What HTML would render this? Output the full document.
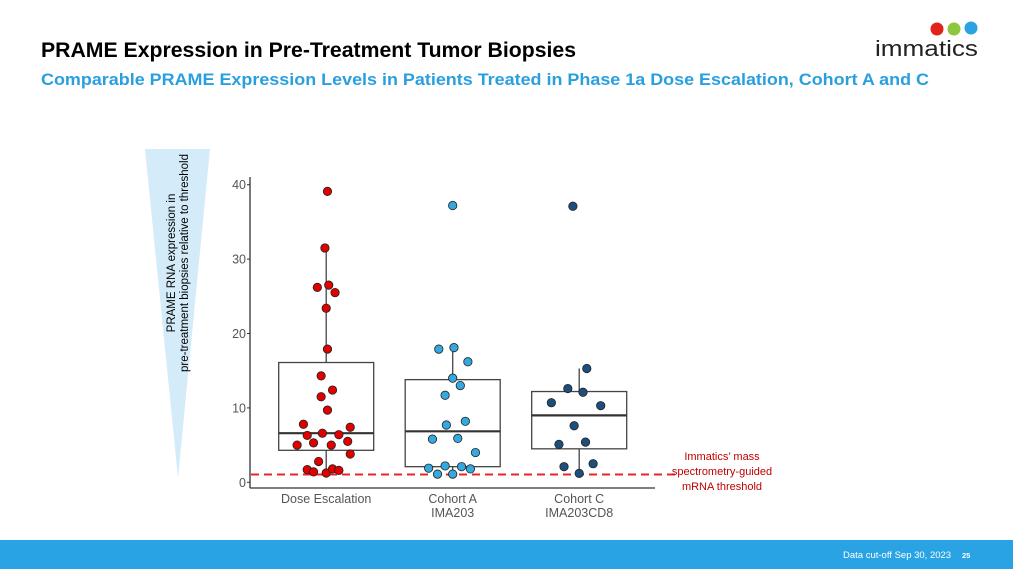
<!DOCTYPE html>
<html><head><meta charset="utf-8"><style>
html,body{margin:0;padding:0;background:#fff;}
svg{display:block;font-family:"Liberation Sans",sans-serif;}
</style></head><body>
<svg id="slide" width="1013" height="569" viewBox="0 0 1013 569" xmlns="http://www.w3.org/2000/svg">
  <text x="41" y="57" font-size="21" font-weight="bold" fill="#000" textLength="535" lengthAdjust="spacingAndGlyphs">PRAME Expression in Pre-Treatment Tumor Biopsies</text>
  <text x="41" y="85" font-size="17" font-weight="bold" fill="#2a9fe0" textLength="888" lengthAdjust="spacingAndGlyphs">Comparable PRAME Expression Levels in Patients Treated in Phase 1a Dose Escalation, Cohort A and C</text>
  <g>
    <circle cx="937" cy="29" r="6.5" fill="#e2231a"/>
    <circle cx="954" cy="29" r="6.5" fill="#8dc63f"/>
    <circle cx="971" cy="28" r="6.5" fill="#29a3e4"/>
    <text x="875" y="56" font-size="22" fill="#222" textLength="103" lengthAdjust="spacingAndGlyphs">immatics</text>
  </g>
  <polygon points="145,149 210,149 178,478" fill="#d4ebfa"/>
  <g transform="translate(178,263) rotate(-90)">
    <text x="0" y="-3" font-size="11.5" text-anchor="middle" fill="#000">PRAME RNA expression in</text>
    <text x="0" y="10" font-size="11.5" text-anchor="middle" fill="#000">pre-treatment biopsies relative to threshold</text>
  </g>
  <g id="chart"></g>
  <g fill="#c00000" font-size="11" text-anchor="middle">
    <text x="722" y="460">Immatics’ mass</text>
    <text x="722" y="475">spectrometry-guided</text>
    <text x="722" y="490">mRNA threshold</text>
  </g>
  <rect x="0" y="540" width="1013" height="29" fill="#29a3e4"/>
  <text x="843" y="558" font-size="9.5" fill="#fff">Data cut-off Sep 30, 2023</text>
  <text x="962" y="558" font-size="7.5" font-weight="bold" fill="#fff">25</text>
</svg>
<script>
const categories = ["Dose Escalation", "Cohort A|IMA203", "Cohort C|IMA203CD8"];
const colors = ["#e00000", "#35a8e0", "#1d4f7c"];
const yTicks = [0, 10, 20, 30, 40];
const threshold = 1.05;
const boxQ1 = [4.3, 2.1, 4.5];
const boxMedian = [6.6, 6.85, 9.0];
const boxQ3 = [16.1, 13.8, 12.2];
const whiskerLow = [1.25, 1.1, 1.2];
const whiskerHigh = [31.5, 18.1, 15.3];
const valuesDose = [39.1,31.5,26.2,26.5,25.5,23.4,17.9,14.3,12.4,11.5,9.7,7.8,7.4,6.3,6.6,6.4,5.0,5.3,5.0,5.5,3.8,2.8,1.7,1.4,1.25,1.8,1.6];
const jitterDose = [0.01,-0.01,-0.07,0.02,0.07,0,0.01,-0.04,0.05,-0.04,0.01,-0.18,0.19,-0.15,-0.03,0.1,-0.23,-0.1,0.04,0.17,0.19,-0.06,-0.15,-0.1,0,0.05,0.1];
const valuesA = [37.2,17.9,18.1,16.2,14.0,13.0,11.7,8.2,7.7,5.8,5.9,4.0,2.2,1.9,2.1,1.8,1.1,1.1];
const jitterA = [0,-0.11,0.01,0.12,0,0.06,-0.06,0.1,-0.05,-0.16,0.04,0.18,-0.06,-0.19,0.07,0.14,-0.12,0];
const valuesC = [37.1,15.3,12.6,12.1,10.7,10.3,7.6,5.1,5.4,2.1,2.5,1.2];
const jitterC = [-0.05,0.06,-0.09,0.03,-0.22,0.17,-0.04,-0.16,0.05,-0.12,0.11,0];
const seriesValues = [valuesDose, valuesA, valuesC];
const seriesJitter = [jitterDose, jitterA, jitterC];

const NS = "http://www.w3.org/2000/svg";
const g = document.getElementById("chart");
const X0 = 250, Y0 = 482.3, YTOP = 184.7, YMAX = 40;
const bandW = 126.5, firstCenter = 326.2, boxHalf = 47.5;
function yS(v){ return Y0 - (v / YMAX) * (Y0 - YTOP); }
function xS(i, j){ return firstCenter + i * bandW + (j || 0) * bandW; }
function mk(tag, attrs){ const e = document.createElementNS(NS, tag); for (const k in attrs) e.setAttribute(k, attrs[k]); g.appendChild(e); return e; }

let e = mk("line", {x1:X0, y1:177, x2:X0, y2:488, stroke:"#333", "stroke-width":1.3});


e = mk("line", {x1:X0, y1:488, x2:655, y2:488, stroke:"#333", "stroke-width":1.3});



yTicks.forEach(t => {
  const y = yS(t);
  let tk = mk("line", {x1:X0-3, y1:y, x2:X0, y2:y, stroke:"#333", "stroke-width":1});
  
  
  let lb = mk("text", {x:X0-4, y:y+4.5, "font-size":12.5, fill:"#555", "text-anchor":"end"});
  lb.textContent = t;
  
  
});

categories.forEach((c, i) => {
  const cx = xS(i, 0);
  const lines = c.split("|");
  lines.forEach((ln, k) => {
    let lb = mk("text", {x:cx, y:503 + k*14, "font-size":12.5, fill:"#555", "text-anchor":"middle"});
    lb.textContent = ln;
    
    
  });
  let w1 = mk("line", {x1:cx, y1:yS(boxQ3[i]), x2:cx, y2:yS(whiskerHigh[i]), stroke:"#444", "stroke-width":1.3});
  
  
  let w2 = mk("line", {x1:cx, y1:yS(boxQ1[i]), x2:cx, y2:yS(whiskerLow[i]), stroke:"#444", "stroke-width":1.3});
  
  
  let bx = mk("rect", {x:cx-boxHalf, y:yS(boxQ3[i]), width:boxHalf*2, height:yS(boxQ1[i]) - yS(boxQ3[i]), fill:"none", stroke:"#444", "stroke-width":1.3});
  
  
  let md = mk("line", {x1:cx-boxHalf, y1:yS(boxMedian[i]), x2:cx+boxHalf, y2:yS(boxMedian[i]), stroke:"#333", "stroke-width":2.2});
  
  
});

let th = mk("line", {x1:X0+1, y1:yS(threshold), x2:680, y2:yS(threshold), stroke:"#e8242a", "stroke-width":2, "stroke-dasharray":"8,5"});



seriesValues.forEach((vals, i) => {
  vals.forEach((v, k) => {
    let p = mk("circle", {cx:xS(i, seriesJitter[i][k]), cy:yS(v), r:4.2, fill:colors[i], stroke:"#222", "stroke-width":0.8});
    
    
  });
});
</script>
</body></html>
